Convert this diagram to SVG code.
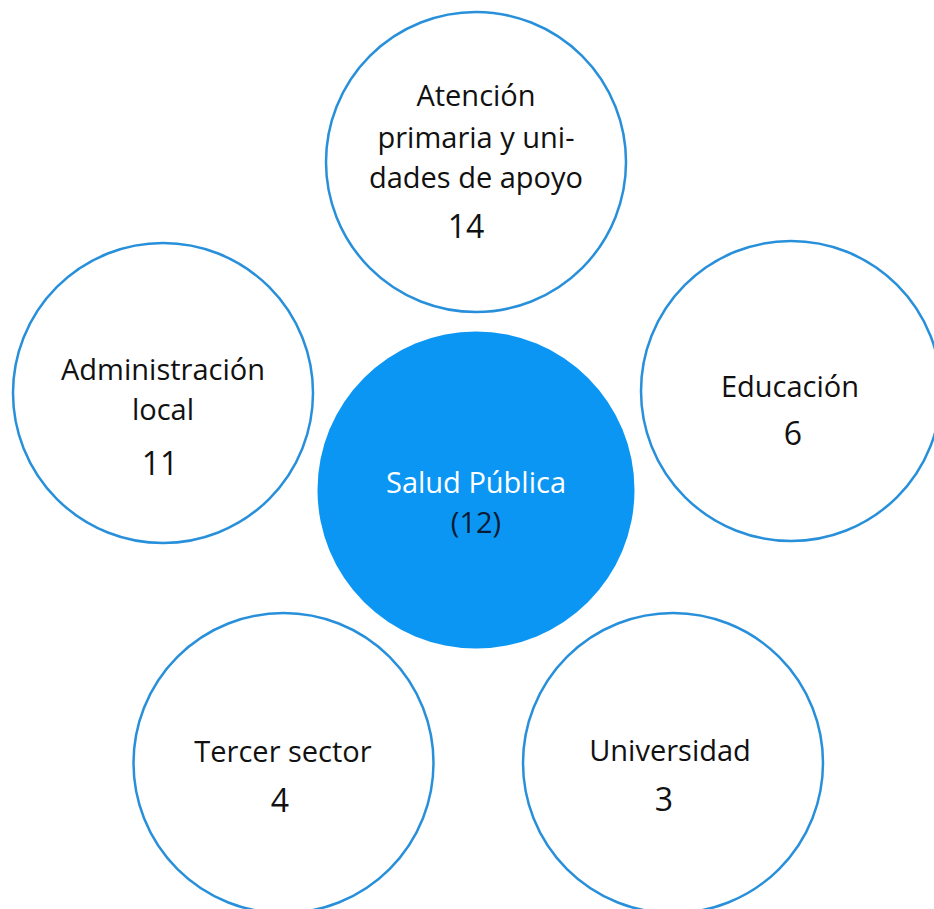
<svg xmlns="http://www.w3.org/2000/svg" width="934" height="909" viewBox="0 0 934 909">
  <style>
    .ring { fill: #ffffff; stroke: #2890DA; stroke-width: 2.5; }
    .hub { fill: #0A96F2; stroke: none; }
    .lbl { font-family: "Open Sans", "Noto Sans", "DejaVu Sans", sans-serif; font-size: 29px; fill: #111111; text-anchor: middle; }
    .num { font-family: "Open Sans", "Noto Sans", "DejaVu Sans", sans-serif; font-size: 32px; fill: #111111; text-anchor: middle; }
  </style>
  <rect width="934" height="909" fill="#ffffff"/>
  <g id="connectors"></g>
  <g id="node-atencion">
    <circle class="ring" cx="476" cy="162" r="150"/>
    <text class="lbl" x="476" y="106">Atención</text>
    <text class="lbl" x="476" y="148">primaria y uni-</text>
    <text class="lbl" x="476" y="188">dades de apoyo</text>
    <text class="num" x="466" y="238">14</text>
  </g>
  <g id="node-administracion">
    <circle class="ring" cx="163" cy="393" r="150"/>
    <text class="lbl" x="163" y="380">Administración</text>
    <text class="lbl" x="163" y="420">local</text>
    <text class="num" x="160" y="475">11</text>
  </g>
  <g id="node-educacion">
    <circle class="ring" cx="791" cy="391" r="150"/>
    <text class="lbl" x="790" y="397">Educación</text>
    <text class="num" x="793" y="445">6</text>
  </g>
  <g id="node-salud">
    <circle class="hub" cx="476" cy="490" r="158.5"/>
    <text class="lbl" x="476" y="493" style="fill:#ffffff">Salud Pública</text>
    <text class="lbl" x="476" y="533" style="fill:#0B1A33">(12)</text>
  </g>
  <g id="node-tercer">
    <circle class="ring" cx="283.5" cy="763" r="150"/>
    <text class="lbl" x="283" y="762">Tercer sector</text>
    <text class="num" x="280" y="812">4</text>
  </g>
  <g id="node-universidad">
    <circle class="ring" cx="673" cy="763" r="150"/>
    <text class="lbl" x="670" y="761">Universidad</text>
    <text class="num" x="664" y="811">3</text>
  </g>
</svg>
